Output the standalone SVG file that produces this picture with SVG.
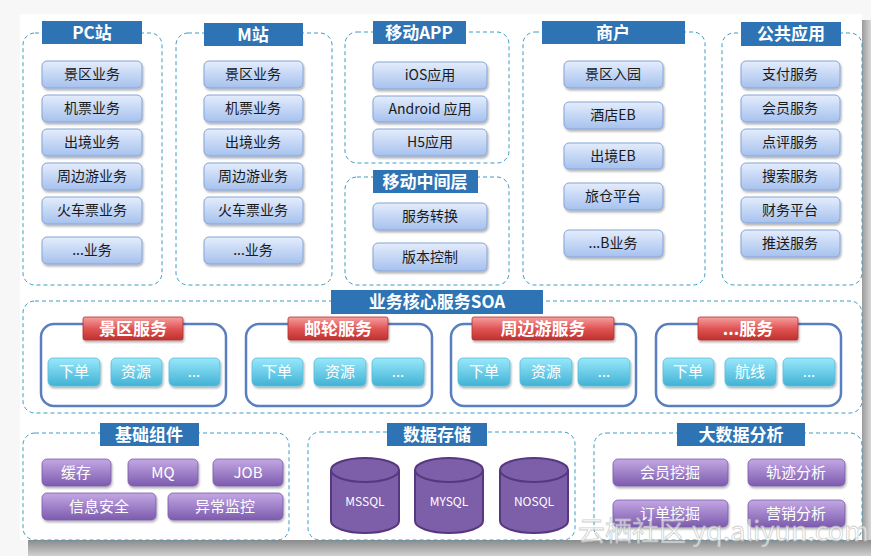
<svg xmlns="http://www.w3.org/2000/svg" width="871" height="556" viewBox="0 0 871 556">
<defs>
<linearGradient id="gBlue" x1="0" y1="0" x2="0" y2="1"><stop offset="0" stop-color="#e4edfc"/><stop offset="1" stop-color="#a6c1ee"/></linearGradient>
<linearGradient id="gRed" x1="0" y1="0" x2="0" y2="1"><stop offset="0" stop-color="#f6a0a0"/><stop offset="0.5" stop-color="#e05555"/><stop offset="1" stop-color="#c0302e"/></linearGradient>
<linearGradient id="gCyan" x1="0" y1="0" x2="0" y2="1"><stop offset="0" stop-color="#98e8fa"/><stop offset="1" stop-color="#42b2d6"/></linearGradient>
<linearGradient id="gPurple" x1="0" y1="0" x2="0" y2="1"><stop offset="0" stop-color="#c3a8e4"/><stop offset="1" stop-color="#7c5bae"/></linearGradient>
<linearGradient id="gShR" x1="0" y1="0" x2="1" y2="0"><stop offset="0" stop-color="#9a9a9a"/><stop offset="1" stop-color="#d8d8d8"/></linearGradient>
<linearGradient id="gShB" x1="0" y1="0" x2="0" y2="1"><stop offset="0" stop-color="#8a8a8a"/><stop offset="1" stop-color="#d0d0d0"/></linearGradient>
<filter id="sh" x="-10%" y="-10%" width="125%" height="140%"><feDropShadow dx="1" dy="2" stdDeviation="1.2" flood-color="#000" flood-opacity="0.3"/></filter>
</defs>
<style>
.cont{fill:none;stroke:#3a9cc2;stroke-width:1;stroke-dasharray:4 3}
.ttl{fill:#2e74b5}
.ttlt{fill:#fff;font-family:"Noto Sans CJK SC","Liberation Sans",sans-serif;font-weight:bold;font-size:17px;text-anchor:middle}
.bb{fill:url(#gBlue);stroke:#86a4d6;stroke-width:1;filter:url(#sh)}
.bt{fill:#1a1a1a;font-family:"Noto Sans CJK SC","Liberation Sans",sans-serif;font-size:14px;text-anchor:middle}
.svc{fill:#fff;stroke:#5a7fc0;stroke-width:2.5}
.rl{fill:url(#gRed);stroke:#b23030;stroke-width:0.8;filter:url(#sh)}
.rt{fill:#fff;font-family:"Noto Sans CJK SC","Liberation Sans",sans-serif;font-weight:bold;font-size:17px;text-anchor:middle}
.cb{fill:url(#gCyan);stroke:#5cbcd8;stroke-width:0.8;filter:url(#sh)}
.ct{fill:#fff;font-family:"Noto Sans CJK SC","Liberation Sans",sans-serif;font-size:15px;text-anchor:middle}
.pb{fill:url(#gPurple);stroke:#7a5aa8;stroke-width:0.8;filter:url(#sh)}
.pt{fill:#fff;font-family:"Noto Sans CJK SC","Liberation Sans",sans-serif;font-size:15px;text-anchor:middle}
.cyl{fill:#7d5ea8;stroke:#55387f;stroke-width:2}
.cyt{fill:#fff;font-family:"Noto Sans CJK SC","Liberation Sans",sans-serif;font-size:12px;text-anchor:middle}
</style>
<rect x="0" y="0" width="871" height="556" fill="#f7f7f7"/>
<rect x="862" y="20" width="9" height="536" fill="url(#gShR)"/>
<rect x="28" y="540" width="843" height="16" fill="url(#gShB)"/>
<rect x="20" y="14" width="842" height="526" fill="#ffffff"/>

<g id="pc">
<rect class="cont" x="23" y="33" width="139" height="252" rx="12"/>
<rect class="ttl" x="42" y="21" width="100" height="23"/><text class="ttlt" x="92" y="39">PC站</text>
<rect class="bb" x="42" y="61" width="100" height="27" rx="5"/><text class="bt" x="92" y="79">景区业务</text>
<rect class="bb" x="42" y="95" width="100" height="27" rx="5"/><text class="bt" x="92" y="113">机票业务</text>
<rect class="bb" x="42" y="129" width="100" height="27" rx="5"/><text class="bt" x="92" y="147">出境业务</text>
<rect class="bb" x="42" y="163" width="100" height="27" rx="5"/><text class="bt" x="92" y="181">周边游业务</text>
<rect class="bb" x="42" y="197" width="100" height="27" rx="5"/><text class="bt" x="92" y="215">火车票业务</text>
<rect class="bb" x="42" y="237" width="100" height="27" rx="5"/><text class="bt" x="92" y="255">...业务</text>
</g>

<g id="m">
<rect class="cont" x="176" y="33" width="156" height="252" rx="12"/>
<rect class="ttl" x="204" y="23" width="99" height="23"/><text class="ttlt" x="253" y="41">M站</text>
<rect class="bb" x="204" y="61" width="99" height="27" rx="5"/><text class="bt" x="253" y="79">景区业务</text>
<rect class="bb" x="204" y="95" width="99" height="27" rx="5"/><text class="bt" x="253" y="113">机票业务</text>
<rect class="bb" x="204" y="129" width="99" height="27" rx="5"/><text class="bt" x="253" y="147">出境业务</text>
<rect class="bb" x="204" y="163" width="99" height="27" rx="5"/><text class="bt" x="253" y="181">周边游业务</text>
<rect class="bb" x="204" y="197" width="99" height="27" rx="5"/><text class="bt" x="253" y="215">火车票业务</text>
<rect class="bb" x="204" y="237" width="99" height="27" rx="5"/><text class="bt" x="253" y="255">...业务</text>
</g>

<g id="app">
<rect class="cont" x="345" y="32" width="164" height="131" rx="12"/>
<rect class="ttl" x="373" y="21" width="93" height="23"/><text class="ttlt" x="419" y="39">移动APP</text>
<rect class="bb" x="373" y="62" width="114" height="27" rx="5"/><text class="bt" x="430" y="80">iOS应用</text>
<rect class="bb" x="373" y="96" width="114" height="26" rx="5"/><text class="bt" x="430" y="114">Android 应用</text>
<rect class="bb" x="373" y="129" width="114" height="27" rx="5"/><text class="bt" x="430" y="147">H5应用</text>
</g>

<g id="mid">
<rect class="cont" x="345" y="177" width="164" height="108" rx="12"/>
<rect class="ttl" x="373" y="170" width="105" height="23"/><text class="ttlt" x="425" y="188">移动中间层</text>
<rect class="bb" x="373" y="203" width="114" height="27" rx="5"/><text class="bt" x="430" y="221">服务转换</text>
<rect class="bb" x="373" y="243" width="114" height="28" rx="5"/><text class="bt" x="430" y="262">版本控制</text>
</g>

<g id="shop">
<rect class="cont" x="523" y="32" width="182" height="253" rx="12"/>
<rect class="ttl" x="542" y="21" width="143" height="23"/><text class="ttlt" x="613" y="39">商户</text>
<rect class="bb" x="564" y="61" width="99" height="27" rx="5"/><text class="bt" x="613" y="79">景区入园</text>
<rect class="bb" x="564" y="102" width="99" height="27" rx="5"/><text class="bt" x="613" y="120">酒店EB</text>
<rect class="bb" x="564" y="143" width="99" height="26" rx="5"/><text class="bt" x="613" y="161">出境EB</text>
<rect class="bb" x="564" y="183" width="99" height="27" rx="5"/><text class="bt" x="613" y="201">旅仓平台</text>
<rect class="bb" x="564" y="230" width="99" height="27" rx="5"/><text class="bt" x="613" y="248">...B业务</text>
</g>

<g id="pub">
<rect class="cont" x="722" y="33" width="140" height="252" rx="12"/>
<rect class="ttl" x="741" y="22" width="100" height="24"/><text class="ttlt" x="791" y="40">公共应用</text>
<rect class="bb" x="741" y="61" width="99" height="27" rx="5"/><text class="bt" x="790" y="79">支付服务</text>
<rect class="bb" x="741" y="95" width="99" height="27" rx="5"/><text class="bt" x="790" y="113">会员服务</text>
<rect class="bb" x="741" y="129" width="99" height="27" rx="5"/><text class="bt" x="790" y="147">点评服务</text>
<rect class="bb" x="741" y="163" width="99" height="27" rx="5"/><text class="bt" x="790" y="181">搜索服务</text>
<rect class="bb" x="741" y="197" width="99" height="26" rx="5"/><text class="bt" x="790" y="215">财务平台</text>
<rect class="bb" x="741" y="230" width="99" height="27" rx="5"/><text class="bt" x="790" y="248">推送服务</text>
</g>

<g id="soa">
<rect class="cont" x="23" y="301" width="839" height="112" rx="12"/>
<rect class="ttl" x="331" y="290" width="212" height="24"/><text class="ttlt" x="437" y="308">业务核心服务SOA</text>
</g>

<g id="svc1">
<rect class="svc" x="41" y="324" width="185" height="82" rx="13"/>
<rect class="rl" x="83" y="317" width="100" height="23" rx="2"/><text class="rt" x="133" y="335">景区服务</text>
<rect class="cb" x="48" y="358" width="52" height="28" rx="5"/><text class="ct" x="74" y="377">下单</text>
<rect class="cb" x="111" y="358" width="51" height="28" rx="5"/><text class="ct" x="136" y="377">资源</text>
<rect class="cb" x="169" y="358" width="51" height="28" rx="5"/><text class="ct" x="194" y="377">...</text>
</g>
<g id="svc2">
<rect class="svc" x="246" y="324" width="186" height="82" rx="13"/>
<rect class="rl" x="288" y="317" width="100" height="23" rx="2"/><text class="rt" x="338" y="335">邮轮服务</text>
<rect class="cb" x="252" y="358" width="51" height="28" rx="5"/><text class="ct" x="277" y="377">下单</text>
<rect class="cb" x="314" y="358" width="52" height="28" rx="5"/><text class="ct" x="340" y="377">资源</text>
<rect class="cb" x="372" y="358" width="52" height="28" rx="5"/><text class="ct" x="398" y="377">...</text>
</g>
<g id="svc3">
<rect class="svc" x="451" y="324" width="185" height="82" rx="13"/>
<rect class="rl" x="472" y="317" width="142" height="23" rx="2"/><text class="rt" x="543" y="335">周边游服务</text>
<rect class="cb" x="458" y="358" width="52" height="28" rx="5"/><text class="ct" x="484" y="377">下单</text>
<rect class="cb" x="520" y="358" width="52" height="28" rx="5"/><text class="ct" x="546" y="377">资源</text>
<rect class="cb" x="578" y="358" width="52" height="28" rx="5"/><text class="ct" x="604" y="377">...</text>
</g>
<g id="svc4">
<rect class="svc" x="656" y="324" width="185" height="82" rx="13"/>
<rect class="rl" x="698" y="317" width="100" height="23" rx="2"/><text class="rt" x="748" y="335">...服务</text>
<rect class="cb" x="663" y="358" width="51" height="28" rx="5"/><text class="ct" x="688" y="377">下单</text>
<rect class="cb" x="725" y="358" width="51" height="28" rx="5"/><text class="ct" x="750" y="377">航线</text>
<rect class="cb" x="783" y="358" width="52" height="28" rx="5"/><text class="ct" x="809" y="377">...</text>
</g>

<g id="base">
<rect class="cont" x="23" y="433" width="266" height="107" rx="12"/>
<rect class="ttl" x="100" y="423" width="99" height="23"/><text class="ttlt" x="149" y="441">基础组件</text>
<rect class="pb" x="42" y="459" width="69" height="27" rx="5"/><text class="pt" x="76" y="478">缓存</text>
<rect class="pb" x="128" y="459" width="70" height="27" rx="5"/><text class="pt" x="163" y="478">MQ</text>
<rect class="pb" x="213" y="459" width="70" height="27" rx="5"/><text class="pt" x="248" y="478">JOB</text>
<rect class="pb" x="42" y="493" width="114" height="27" rx="5"/><text class="pt" x="99" y="512">信息安全</text>
<rect class="pb" x="168" y="493" width="115" height="27" rx="5"/><text class="pt" x="225" y="512">异常监控</text>
</g>

<g id="store">
<rect class="cont" x="308" y="432" width="267" height="108" rx="12"/>
<rect class="ttl" x="387" y="423" width="100" height="23"/><text class="ttlt" x="437" y="441">数据存储</text>
</g>
<g id="mssql">
<path class="cyl" d="M331 470 A34 12 0 0 1 399 470 L399 521 A34 12 0 0 1 331 521 Z"/>
<path d="M331 470 A34 12 0 0 0 399 470" fill="none" stroke="#55387f" stroke-width="2"/>
<text class="cyt" x="365" y="506">MSSQL</text>
</g>
<g id="mysql">
<path class="cyl" d="M415 470 A34 12 0 0 1 483 470 L483 521 A34 12 0 0 1 415 521 Z"/>
<path d="M415 470 A34 12 0 0 0 483 470" fill="none" stroke="#55387f" stroke-width="2"/>
<text class="cyt" x="449" y="506">MYSQL</text>
</g>
<g id="nosql">
<path class="cyl" d="M500 470 A34 12 0 0 1 568 470 L568 521 A34 12 0 0 1 500 521 Z"/>
<path d="M500 470 A34 12 0 0 0 568 470" fill="none" stroke="#55387f" stroke-width="2"/>
<text class="cyt" x="534" y="506">NOSQL</text>
</g>

<g id="bigdata">
<rect class="cont" x="594" y="433" width="268" height="107" rx="12"/>
<rect class="ttl" x="677" y="423" width="128" height="23"/><text class="ttlt" x="741" y="441">大数据分析</text>
<rect class="pb" x="613" y="459" width="115" height="27" rx="5"/><text class="pt" x="670" y="478">会员挖掘</text>
<rect class="pb" x="748" y="459" width="97" height="27" rx="5"/><text class="pt" x="796" y="478">轨迹分析</text>
<rect class="pb" x="613" y="500" width="115" height="27" rx="5"/><text class="pt" x="670" y="519">订单挖掘</text>
<rect class="pb" x="748" y="500" width="97" height="27" rx="5"/><text class="pt" x="796" y="519">营销分析</text>
</g>

<text x="578" y="541" font-family="Noto Sans CJK SC,Liberation Sans,sans-serif" font-size="27" fill="#ffffff" fill-opacity="0.6" stroke="#b8b8b8" stroke-width="0.8" stroke-opacity="0.7">云栖社区 yq.aliyun.com</text>
</svg>
